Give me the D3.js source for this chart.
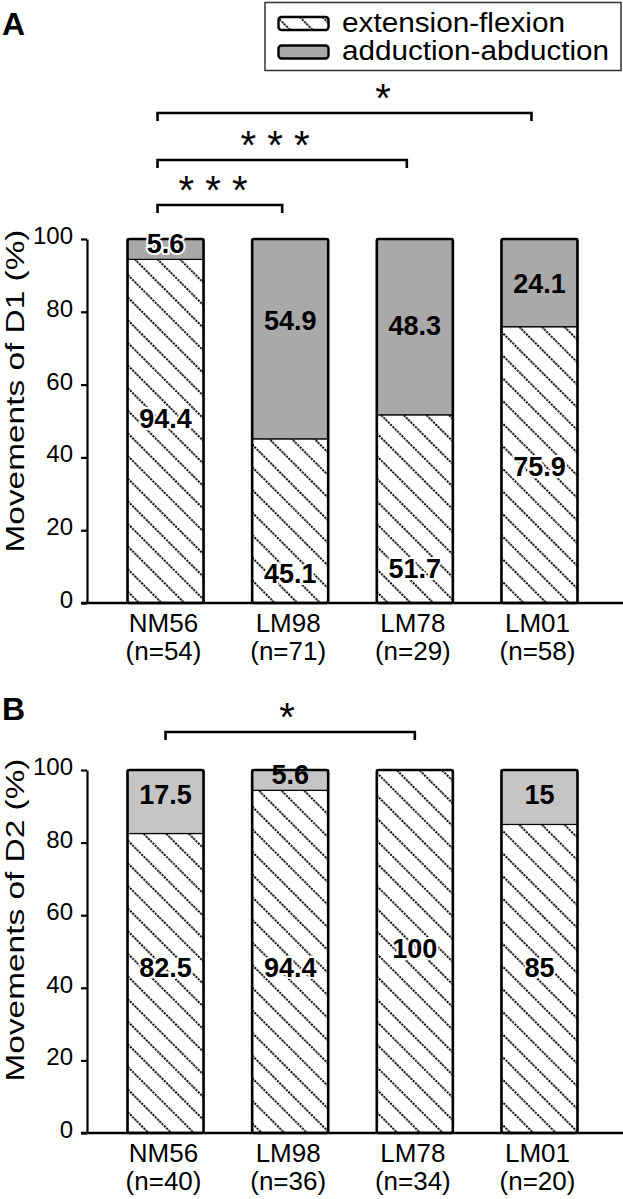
<!DOCTYPE html>
<html><head><meta charset="utf-8">
<script src="https://cdn.jsdelivr.net/npm/d3@7"></script>
<style>
html,body{margin:0;padding:0;background:#fff;}
svg{display:block;font-family:"Liberation Sans",Arial,Helvetica,sans-serif;}
</style></head>
<body>
<svg id="chart" width="623" height="1199"></svg>
<script>
// ---------- data ----------
const categories = ["NM56", "LM98", "LM78", "LM01"];
const nA = [54, 71, 29, 58];
const extA = [94.4, 45.1, 51.7, 75.9];      // extension-flexion (%)
const addA = [5.6, 54.9, 48.3, 24.1];       // adduction-abduction (%)
const nB = [40, 36, 34, 20];
const extB = [82.5, 94.4, 100, 85];
const addB = [17.5, 5.6, 0, 15];
const yTicks = [0, 20, 40, 60, 80, 100];
// where each value label sits, in % units
const extLabelAtA = [50.7, 8.2, 9.6, 37.6];
const addLabelAtA = [98.9, 77.7, 76.4, 87.9];
const extLabelAtB = [45.7, 45.7, 51, 45.7];
const addLabelAtB = [93.4, 98.9, 0, 93.4];
const sigA = [
  {from: "NM56", to: "LM98", label: "* * *"},
  {from: "NM56", to: "LM78", label: "* * *"},
  {from: "NM56", to: "LM01", label: "*"}
];
const sigB = [{from: "NM56", to: "LM78", label: "*"}];
const legendLabels = ["extension-flexion", "adduction-abduction"];

// ---------- drawing ----------
const svg = d3.select("#chart");
svg.append("rect").attr("width", 623).attr("height", 1199).attr("fill", "#fff");

const defs = svg.append("defs");
const pat = defs.append("pattern").attr("id", "hatch")
  .attr("patternUnits", "userSpaceOnUse").attr("width", 16).attr("height", 16)
  .attr("patternTransform", "rotate(-45)");
pat.append("rect").attr("width", 16).attr("height", 16).attr("fill", "#fff");
pat.append("line").attr("x1", 8).attr("y1", 0).attr("x2", 8).attr("y2", 16)
  .attr("stroke", "#000").attr("stroke-width", 2).attr("stroke-dasharray", "2 1.2");

const x = d3.scaleBand().domain(categories).range([87, 618]).paddingInner(0.39).paddingOuter(0.325);

function panel(opt) {
  const g = svg.append("g");
  const y = d3.scaleLinear().domain([0, 100]).range([opt.y0, opt.y1]);

  // panel letter
  g.append("text").attr("x", 2).attr("y", opt.letterY).attr("font-size", 32)
    .attr("font-weight", "bold").attr("fill", "#000").text(opt.letter);

  // y axis
  const ax = g.append("g").attr("transform", "translate(87,0)")
    .call(d3.axisLeft(y).tickValues(yTicks).tickFormat(d3.format("d")).tickSize(6).tickSizeOuter(0).tickPadding(8));
  ax.select(".domain").attr("stroke", "#000").attr("stroke-width", 2.2);
  ax.selectAll(".tick line").attr("stroke", "#000").attr("stroke-width", 2.2);
  ax.selectAll(".tick text").attr("font-size", 24).attr("fill", "#000")
    .attr("font-family", "Liberation Sans, Arial, sans-serif").attr("dy", "0.19em");

  // y title
  g.append("text").attr("transform", `translate(24,${opt.titleY}) rotate(-90)`)
    .attr("text-anchor", "middle").attr("font-size", 25).attr("fill", "#000")
    .attr("textLength", 323).attr("lengthAdjust", "spacingAndGlyphs")
    .text(opt.title);

  // bars
  const bars = g.selectAll(".bar").data(categories.map((c, i) => ({c, i, ext: opt.ext[i], add: opt.add[i], n: opt.n[i]})))
    .join("g").attr("class", "bar");
  bars.append("rect").attr("x", d => x(d.c)).attr("width", x.bandwidth())
    .attr("y", d => y(d.ext)).attr("height", d => y(0) - y(d.ext))
    .attr("fill", "url(#hatch)").attr("stroke", "#000").attr("stroke-width", 1.2);
  bars.filter(d => d.add > 0).append("rect").attr("x", d => x(d.c)).attr("width", x.bandwidth())
    .attr("y", d => y(d.ext + d.add)).attr("height", d => y(d.ext) - y(d.ext + d.add))
    .attr("fill", opt.gray).attr("stroke", "#000").attr("stroke-width", 1.2);
  bars.append("rect").attr("x", d => x(d.c)).attr("width", x.bandwidth())
    .attr("y", d => y(d.ext + d.add)).attr("height", d => y(0) - y(d.ext + d.add))
    .attr("rx", 2).attr("fill", "none").attr("stroke", "#000").attr("stroke-width", 2.6);

  // value labels
  const vfmt = v => String(v);
  bars.append("text").attr("x", d => x(d.c) + x.bandwidth() / 2)
    .attr("y", d => y(opt.extAt[d.i]) + 9.8)
    .attr("text-anchor", "middle").attr("font-size", 27).attr("font-weight", "bold")
    .attr("fill", "#000").attr("stroke", "#fff").attr("stroke-width", 4)
    .attr("stroke-linejoin", "round").attr("paint-order", "stroke")
    .text(d => vfmt(d.ext));
  bars.filter(d => d.add > 0).append("text").attr("x", d => x(d.c) + x.bandwidth() / 2)
    .attr("y", d => y(opt.addAt[d.i]) + 9.8)
    .attr("text-anchor", "middle").attr("font-size", 27).attr("font-weight", "bold")
    .attr("fill", "#000")
    .attr("stroke", d => d.add < 10 && opt.halo ? "#fff" : "none").attr("stroke-width", 4)
    .attr("stroke-linejoin", "round").attr("paint-order", "stroke")
    .text(d => vfmt(d.add));

  // x axis line
  g.append("line").attr("x1", 81).attr("x2", 623).attr("y1", y(0)).attr("y2", y(0))
    .attr("stroke", "#000").attr("stroke-width", 2.4);

  // category labels (two lines)
  const catData = categories.map((c, i) => ({c, n: opt.n[i]}));
  g.selectAll(".cat").data(catData).join("text").attr("class", "cat")
    .attr("x", d => x(d.c) + x.bandwidth() / 2 - 2).attr("y", y(0) + 29)
    .attr("text-anchor", "middle").attr("font-size", 26).attr("fill", "#000").text(d => d.c);
  g.selectAll(".catn").data(catData).join("text").attr("class", "catn")
    .attr("x", d => x(d.c) + x.bandwidth() / 2 - 2).attr("y", y(0) + 57)
    .attr("text-anchor", "middle").attr("font-size", 26).attr("fill", "#000").text(d => `(n=${d.n})`);

  // significance brackets
  opt.sig.forEach((s, k) => {
    const yb = opt.bracketY[k];
    const x1 = x(s.from) + x.bandwidth() / 2 + opt.bOff;
    const x2 = x(s.to) + x.bandwidth() / 2 + opt.bOff;
    g.append("path").attr("d", `M${x1},${yb + 8}V${yb}H${x2}V${yb + 8}`)
      .attr("fill", "none").attr("stroke", "#000").attr("stroke-width", 2.6);
    g.append("text").attr("x", opt.starX[k]).attr("y", yb - 1)
      .attr("text-anchor", "middle").attr("font-size", 40).attr("fill", "#000").text(s.label);
  });
}

panel({letter: "A", letterY: 35, y0: 603, y1: 239, title: "Movements of D1 (%)", titleY: 391,
  ext: extA, add: addA, n: nA, gray: "#a9a9a9", extAt: extLabelAtA, addAt: addLabelAtA, halo: true,
  sig: sigA, bracketY: [205, 160, 113], starX: [213, 275, 383], bOff: -8});
panel({letter: "B", letterY: 720, y0: 1133, y1: 770, title: "Movements of D2 (%)", titleY: 920,
  ext: extB, add: addB, n: nB, gray: "#c5c5c5", extAt: extLabelAtB, addAt: addLabelAtB, halo: false,
  sig: sigB, bracketY: [732], starX: [287], bOff: 0});

// legend
const lg = svg.append("g");
lg.append("rect").attr("x", 265).attr("y", 2.5).attr("width", 356).attr("height", 68)
  .attr("fill", "#fff").attr("stroke", "#333").attr("stroke-width", 1.5);
const fills = ["url(#hatch)", "#a9a9a9"];
legendLabels.forEach((t, i) => {
  lg.append("rect").attr("x", 278.5).attr("y", 17 + i * 28.5).attr("width", 50).attr("height", 13)
    .attr("rx", 3).attr("fill", fills[i]).attr("stroke", "#000").attr("stroke-width", 2.4);
  lg.append("text").attr("x", 342).attr("y", 31.5 + i * 28).attr("font-size", 27).attr("fill", "#000")
    .attr("textLength", i === 0 ? 223 : 267).attr("lengthAdjust", "spacingAndGlyphs").text(t);
});
</script>
</body></html>
